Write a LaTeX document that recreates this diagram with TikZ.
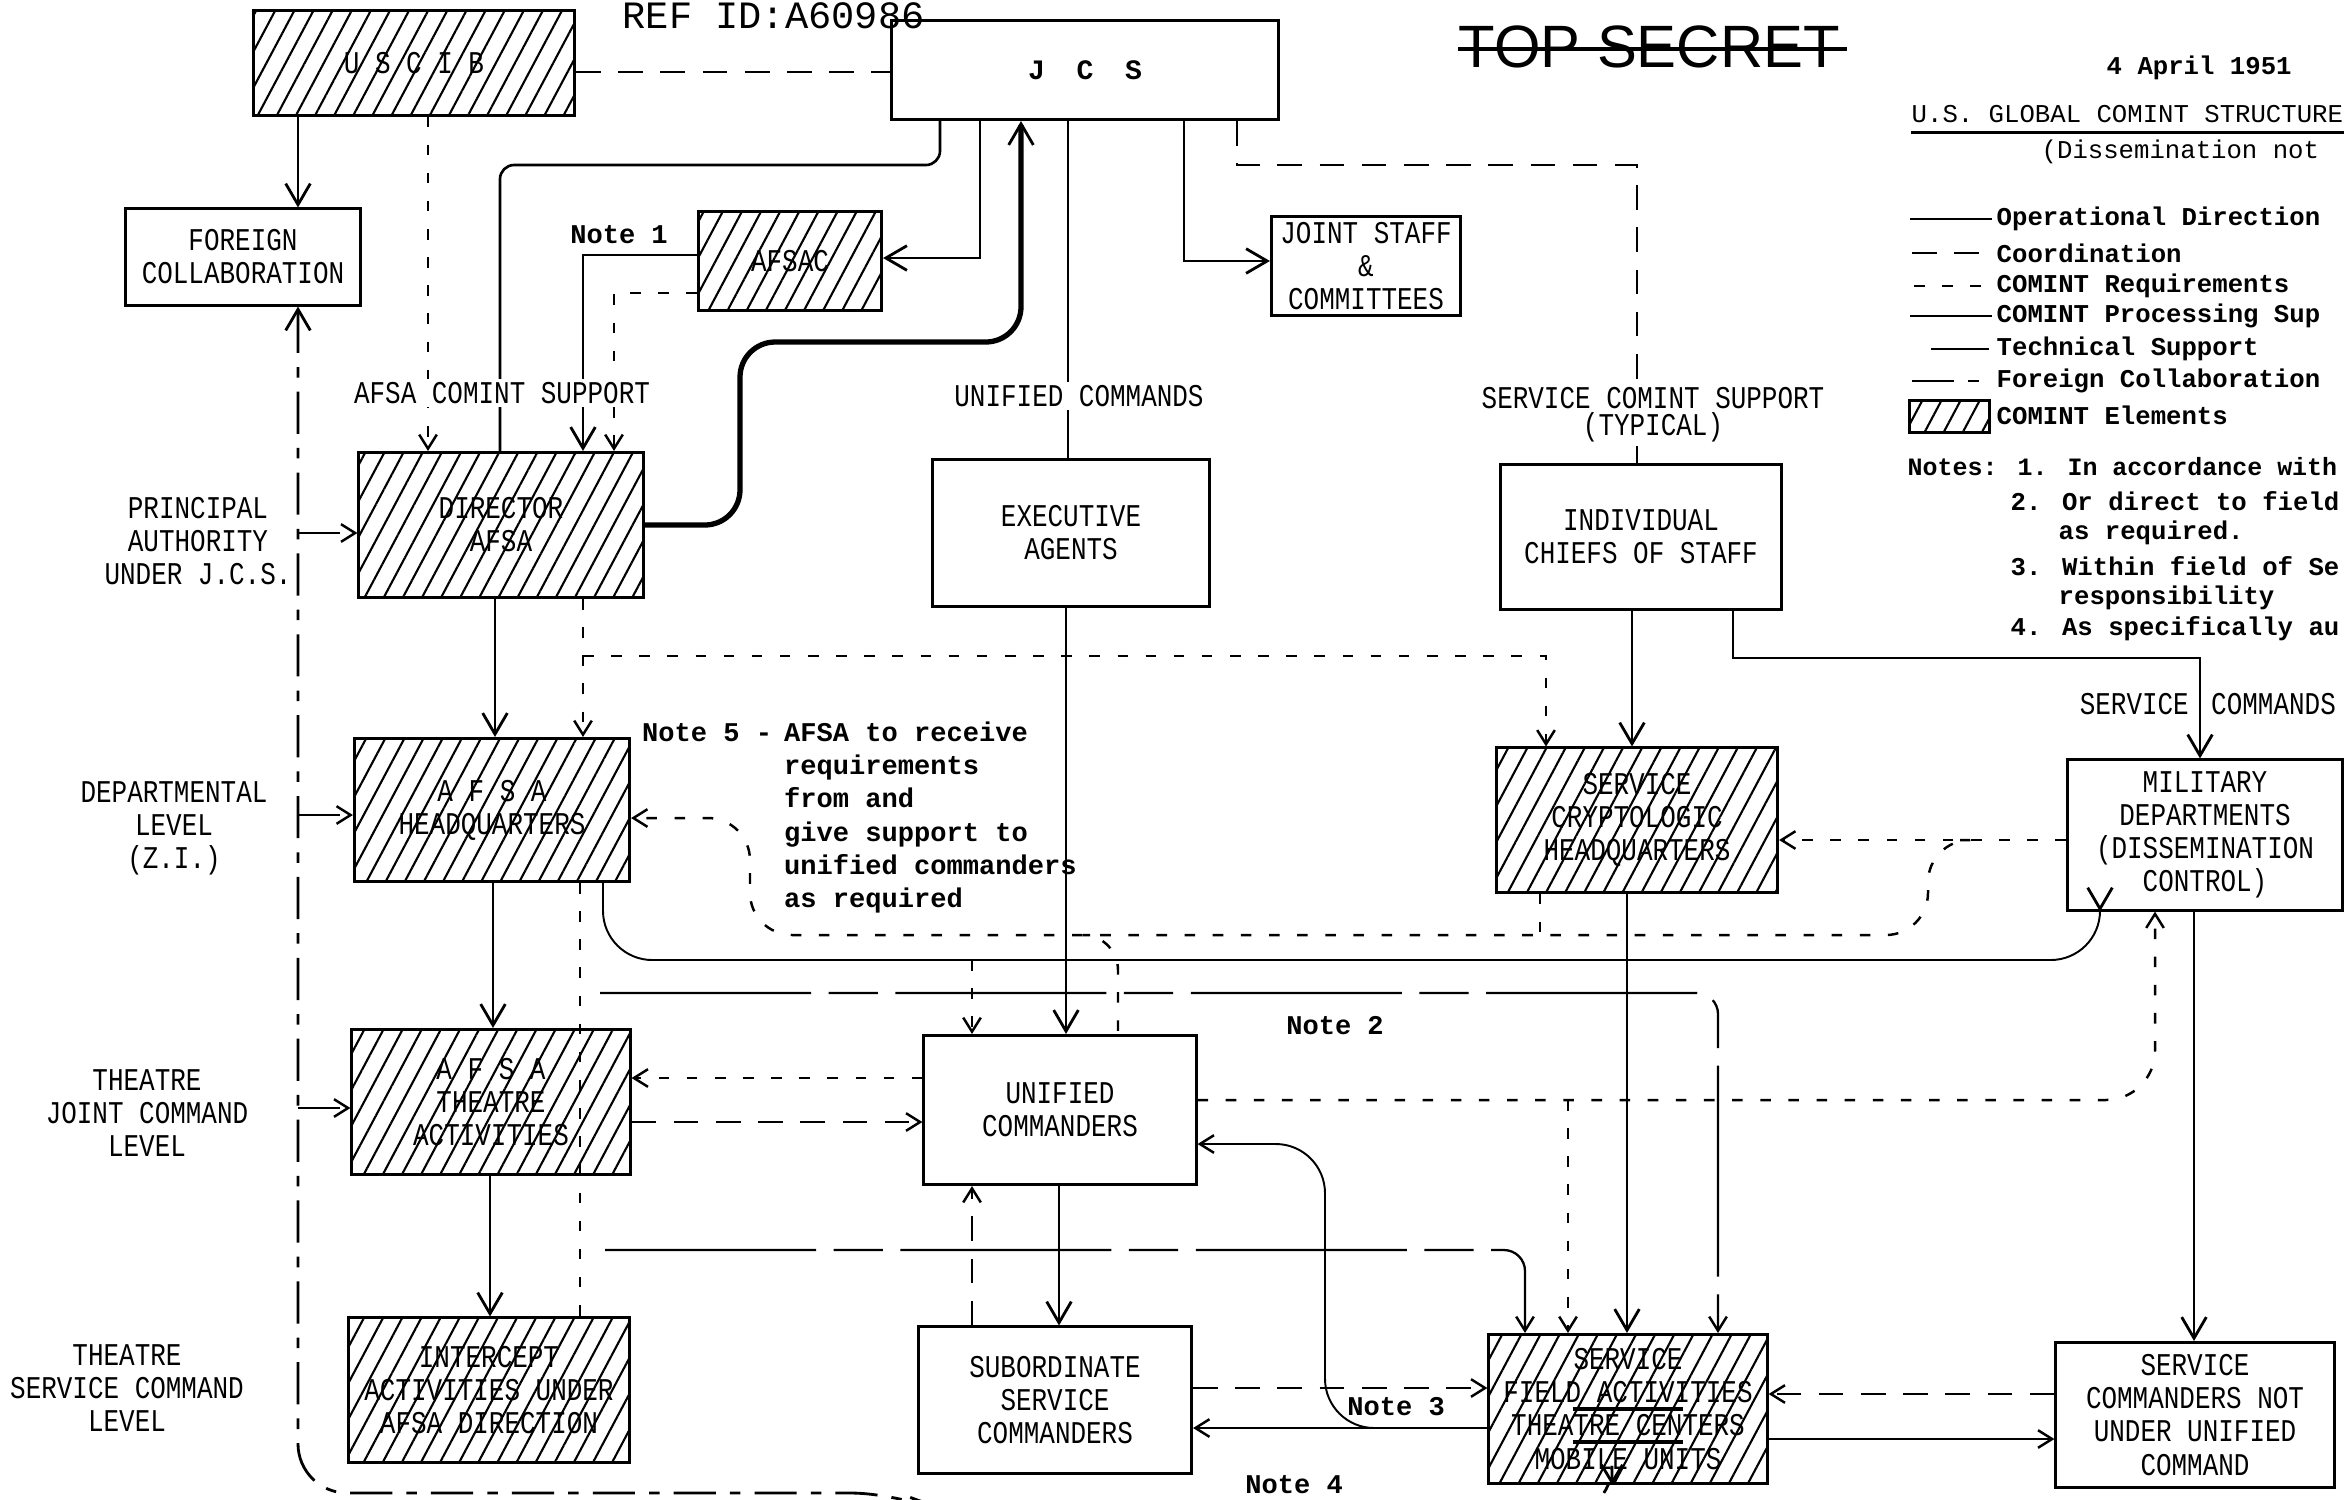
\documentclass[tikz,border=0pt]{standalone}
\usepackage{fontspec}
\setmainfont{Liberation Mono}
\newfontfamily\boxfont[FakeStretch=0.82]{Liberation Mono}
\newfontfamily\stampfont{Liberation Sans}
\usetikzlibrary{arrows.meta,patterns.meta}

\begin{document}
\begin{tikzpicture}[x=0.01cm, y=-0.01cm,
  box/.style={draw, line width=0.85pt, align=center, inner sep=1pt,
    font=\boxfont\fontsize{9}{9.4}\selectfont},
  hatchfill/.style={pattern={Lines[angle=62,distance=4.8pt,line width=0.6pt]}},
  hatch/.style={box, hatchfill},
  lbl/.style={align=center, inner sep=1pt, font=\boxfont\fontsize{9}{9.4}\selectfont},
  note/.style={inner sep=1pt, font=\bfseries\fontsize{7.7}{9.4}\selectfont},
  legtxt/.style={anchor=west, inner sep=0pt, font=\bfseries\fontsize{7.3}{9}\selectfont},
  opdir/.style={line width=0.75pt},
  coord/.style={line width=0.8pt, dash pattern=on 7pt off 5pt},
  req/.style={line width=0.7pt, dash pattern=on 3pt off 5pt},
  proc/.style={line width=0.55pt},
  tech/.style={line width=0.65pt, dash pattern=on 60pt off 5pt on 14pt off 5pt},
  forgn/.style={line width=0.8pt, dash pattern=on 12pt off 4pt on 3pt off 4pt},
  heavy/.style={line width=1.5pt},
  arr/.style={-{Straight Barb[length=6pt,width=7pt,line width=0.8pt]}},
  sarr/.style={-{Straight Barb[length=4pt,width=5pt,line width=0.7pt]}},
  barr/.style={{Straight Barb[length=6pt,width=7pt,line width=0.8pt]}-{Straight Barb[length=5pt,width=6pt,line width=0.8pt]}}]
  \useasboundingbox (0,0) rectangle (2345,1499);

  % Header
  \node[anchor=base west, inner sep=0pt, font=\fontsize{11}{11}\selectfont] (refid) at (622,28) {REF ID:A60986};
  \node[anchor=base west, inner sep=0pt, font=\stampfont\fontsize{17}{17}\selectfont] (topsec) at (1458,67) {TOP SECRET};
  \draw[line width=1.1pt] (topsec.west |- 0,49) -- ([xshift=2pt]topsec.east |- 0,49);
  \node[anchor=base west, inner sep=0pt, font=\bfseries\fontsize{7.3}{9}\selectfont] (date) at (2106,74) {4 April 1951};
  \node[anchor=base west, inner sep=0pt, font=\fontsize{7.3}{9}\selectfont] (gtitle) at (1911,122) {U.S. GLOBAL COMINT STRUCTURE};
  \draw[line width=1pt] ([yshift=-3pt]gtitle.base west) -- ([yshift=-3pt]gtitle.base east);
  \node[anchor=base west, inner sep=0pt, font=\fontsize{7.3}{9}\selectfont] (dissem) at (2041,158) {(Dissemination not};

  % Legend
  \foreach \y/\t in {219/Operational Direction, 253/Coordination, 286/COMINT Requirements,
                     316/COMINT Processing Sup, 349/Technical Support,
                     381/Foreign Collaboration, 415/COMINT Elements}
    \node[legtxt] (leg\y) at (1996,\y) {\t};
  \draw[opdir] (1910,219) -- (1992,219);
  \draw[coord] (1912,253) -- (1992,253);
  \draw[req] (1914,286) -- (1992,286);
  \draw[proc] (1910,316) -- (1992,316);
  \draw[proc] (1931,349) -- (1989,349);
  \draw[forgn] (1912,381) -- (1992,381);
  \draw[line width=0.85pt, hatchfill] (1909,400) rectangle (1989,432);
  % Notes
  \node[legtxt, font=\bfseries\fontsize{7.1}{9}\selectfont] (notes) at (1907,467) {Notes: 1. In accordance with};
  \foreach \y/\t in {501/2. Or direct to field, 566/3. Within field of Se, 629/4. As specifically au}
    \node[legtxt] (nt\y) at (2010,\y) {\t};
  \foreach \y/\t in {533/as required., 598/responsibility}
    \node[legtxt] (nt\y) at (2058,\y) {\t};

  % Boxes
  \node[hatch, minimum width=3.21cm, minimum height=1.04cm] (uscib) at (414,63) {U S C I B};
  \node[box, minimum width=3.86cm, minimum height=0.99cm, font=\bfseries\fontsize{8}{9}\selectfont] (jcs) at (1085,70) {J\hspace{9pt}C\hspace{9pt}S};
  \node[box, minimum width=2.34cm, minimum height=0.96cm] (forcol) at (243,257) {FOREIGN\\COLLABORATION};
  \node[hatch, minimum width=1.83cm, minimum height=0.98cm] (afsac) at (790,261) {AFSAC};
  \node[box, minimum width=1.89cm, minimum height=0.99cm] (jstaff) at (1366,266) {JOINT STAFF\\\&\\COMMITTEES};
  \node[hatch, minimum width=2.84cm, minimum height=1.45cm] (diraf) at (501,525) {DIRECTOR\\AFSA};
  \node[box, minimum width=2.77cm, minimum height=1.46cm] (exag) at (1071,533) {EXECUTIVE\\AGENTS};
  \node[box, minimum width=2.81cm, minimum height=1.45cm] (chiefs) at (1641,537) {INDIVIDUAL\\CHIEFS OF STAFF};
  \node[hatch, minimum width=2.75cm, minimum height=1.43cm] (afsahq) at (492,810) {A F S A\\HEADQUARTERS};
  \node[hatch, minimum width=2.81cm, minimum height=1.44cm] (scrypt) at (1637,820) {SERVICE\\CRYPTOLOGIC\\HEADQUARTERS};
  \node[box, minimum width=2.75cm, minimum height=1.50cm] (mildep) at (2205,835) {MILITARY\\DEPARTMENTS\\(DISSEMINATION\\CONTROL)};
  \node[hatch, minimum width=2.78cm, minimum height=1.45cm] (afsath) at (491,1102) {A F S A\\THEATRE\\ACTIVITIES};
  \node[box, minimum width=2.72cm, minimum height=1.49cm] (unicom) at (1060,1110) {UNIFIED\\COMMANDERS};
  \node[hatch, minimum width=2.80cm, minimum height=1.44cm] (intcpt) at (489,1390) {INTERCEPT\\ACTIVITIES UNDER\\AFSA DIRECTION};
  \node[box, minimum width=2.73cm, minimum height=1.46cm] (subser) at (1055,1400) {SUBORDINATE\\SERVICE\\COMMANDERS};
  \node[hatch, minimum width=2.78cm, minimum height=1.49cm] (fldact) at (1628,1409) {SERVICE\\FIELD ACTIVITIES\\THEATRE CENTERS\\MOBILE UNITS};
  \node[box, minimum width=2.78cm, minimum height=1.45cm] (sernot) at (2195,1415) {SERVICE\\COMMANDERS NOT\\UNDER UNIFIED\\COMMAND};
  \draw[line width=1.1pt] ([xshift=-0.55cm]fldact.center) -- ([xshift=0.55cm]fldact.center);
  \draw[line width=1.1pt] ([xshift=-0.55cm,yshift=-0.33cm]fldact.center) -- ([xshift=0.55cm,yshift=-0.33cm]fldact.center);

  % Level labels
  \node[lbl] (levpa) at (198,541) {PRINCIPAL\\AUTHORITY\\UNDER J.C.S.};
  \node[lbl] (levdep) at (174,828) {DEPARTMENTAL\\LEVEL\\(Z.I.)};
  \node[lbl] (levjoint) at (147,1113) {THEATRE\\JOINT COMMAND\\LEVEL};
  \node[lbl] (levserv) at (127,1388) {THEATRE\\SERVICE COMMAND\\LEVEL};

  % JCS level
  \draw[opdir,arr] (298,0 |- uscib.south) -- (298,0 |- forcol.north);
  \draw[coord] (uscib.east |- 0,72) -- (jcs.west |- 0,72);
  \draw[req,sarr] (428,0 |- uscib.south) -- (428,0 |- diraf.north);
  \draw[opdir,rounded corners=4pt] (940,0 |- jcs.south) |- (500,165) -- (500,0 |- diraf.north);
  \draw[opdir,arr] (980,0 |- jcs.south) |- (afsac.east |- 0,258);
  \draw[proc,arr] (afsac.west |- 0,255) -| (583,0 |- diraf.north);
  \draw[req,sarr] (afsac.west |- 0,293) -| (614,0 |- diraf.north);
  \draw[heavy,arr,rounded corners=10pt] (diraf.east) -| (740,342) -| (1021,0 |- jcs.south);
  \draw[opdir] (1068,0 |- jcs.south) -- (1068,0 |- exag.north);
  \draw[opdir,arr] (1066,0 |- exag.south) -- (1066,0 |- unicom.north);
  \draw[opdir,arr] (1184,0 |- jcs.south) |- (jstaff.west |- 0,261);
  \draw[coord] (1237,0 |- jcs.south) |- (1637,165) -- (1637,0 |- chiefs.north);
  \draw[opdir,arr] (1632,0 |- chiefs.south) -- (1632,0 |- scrypt.north);
  \draw[opdir,arr] (1733,0 |- chiefs.south) |- (2200,658) -- (2200,0 |- mildep.north);

  % AFSA column
  \draw[opdir,arr] (495,0 |- diraf.south) -- (495,0 |- afsahq.north);
  \draw[req,sarr] (583,0 |- diraf.south) -- (583,0 |- afsahq.north);
  \draw[req,sarr] (583,656) -| (1546,0 |- scrypt.north);
  \draw[opdir,arr] (493,0 |- afsahq.south) -- (493,0 |- afsath.north);
  \draw[opdir,arr] (490,0 |- afsath.south) -- (490,0 |- intcpt.north);
  \draw[req] (580,0 |- afsahq.south) -- (580,0 |- intcpt.north);

  % Requirements (Note 5)
  \draw[req,sarr] (mildep.west |- 0,840) -- (scrypt.east |- 0,840);
  \draw[req,sarr,rounded corners=12pt] (1960,840) -- (1928,840) -- (1928,935) -- (750,935) -- (750,818) -- (afsahq.east |- 0,818);
  \draw[req,rounded corners=10pt] (1090,935) -| (1118,0 |- unicom.north);
  \draw[req] (1540,0 |- scrypt.south) -- (1540,935);

  % Processing support, Note 2
  \draw[proc,arr,rounded corners=14pt] (603,0 |- afsahq.south) |- (2100,960) -- (2100,0 |- mildep.south);
  \draw[req,sarr] (972,960) -- (972,0 |- unicom.north);
  \draw[tech,sarr,rounded corners=6pt] (600,993) -| (1718,0 |- fldact.north);

  % Theatre level
  \draw[req,sarr] (unicom.west |- 0,1078) -- (afsath.east |- 0,1078);
  \draw[coord,sarr] (afsath.east |- 0,1122) -- (unicom.west |- 0,1122);
  \draw[tech,sarr,rounded corners=6pt] (605,1250) -| (1525,0 |- fldact.north);
  \draw[coord,sarr] (972,0 |- subser.north) -- (972,0 |- unicom.south);
  \draw[opdir,arr] (1059,0 |- unicom.south) -- (1059,0 |- subser.north);
  \draw[req,sarr,rounded corners=14pt] (unicom.east |- 0,1100) -| (2155,0 |- mildep.south);
  \draw[req,sarr] (1568,1100) -- (1568,0 |- fldact.north);

  % Field level
  \draw[proc,sarr] (fldact.west |- 0,1428) -- (subser.east |- 0,1428);
  \draw[proc,sarr,rounded corners=14pt] (1400,1428) -| (1325,1144) -- (unicom.east |- 0,1144);
  \draw[coord,sarr] (subser.east |- 0,1388) -- (fldact.west |- 0,1388);
  \draw[coord,sarr] (sernot.west |- 0,1394) -- (fldact.east |- 0,1394);
  \draw[proc,sarr] (fldact.east |- 0,1439) -- (sernot.west |- 0,1439);
  \draw[opdir,arr] (2194,0 |- mildep.south) -- (2194,0 |- sernot.north);
  \draw[opdir,arr] (1627,0 |- scrypt.south) -- (1627,0 |- fldact.north);

  % Foreign collaboration
  \draw[forgn,barr,rounded corners=14pt] (298,0 |- forcol.south) -- (298,1493) -- (900,1493) -- (950,1515) -- (1612,1515) -- (1612,0 |- fldact.south);
  \draw[forgn,sarr] (298,533) -- (diraf.west |- 0,533);
  \draw[forgn,sarr] (298,815) -- (afsahq.west |- 0,815);
  \draw[forgn,sarr] (298,1108) -- (afsath.west |- 0,1108);

  % Section labels
  \node[lbl, fill=white] (afsasup) at (502,393) {AFSA COMINT SUPPORT};
  \node[lbl, fill=white] (unicmds) at (1079,396) {UNIFIED COMMANDS};
  \node[lbl, fill=white, font=\boxfont\fontsize{9}{6.6}\selectfont] (svcsup) at (1653,415) {SERVICE COMINT SUPPORT\\(TYPICAL)};
  \node[lbl, anchor=east] (svcmd1) at (2193,704) {SERVICE};
  \node[lbl, anchor=west] (svcmd2) at (2207,704) {COMMANDS};

  % Notes
  \node[note] (note1) at (619,235) {Note 1};
  \node[note, anchor=west] (note5) at (638,733) {Note 5 -};
  \node[note, anchor=north west, align=left] (note5txt) at (780,718) {AFSA to receive\\requirements\\from and\\give support to\\unified commanders\\as required};
  \node[note] (note2) at (1335,1026) {Note 2};
  \node[note] (note3) at (1396,1407) {Note 3};
  \node[note] (note4) at (1294,1485) {Note 4};
\end{tikzpicture}
\end{document}
